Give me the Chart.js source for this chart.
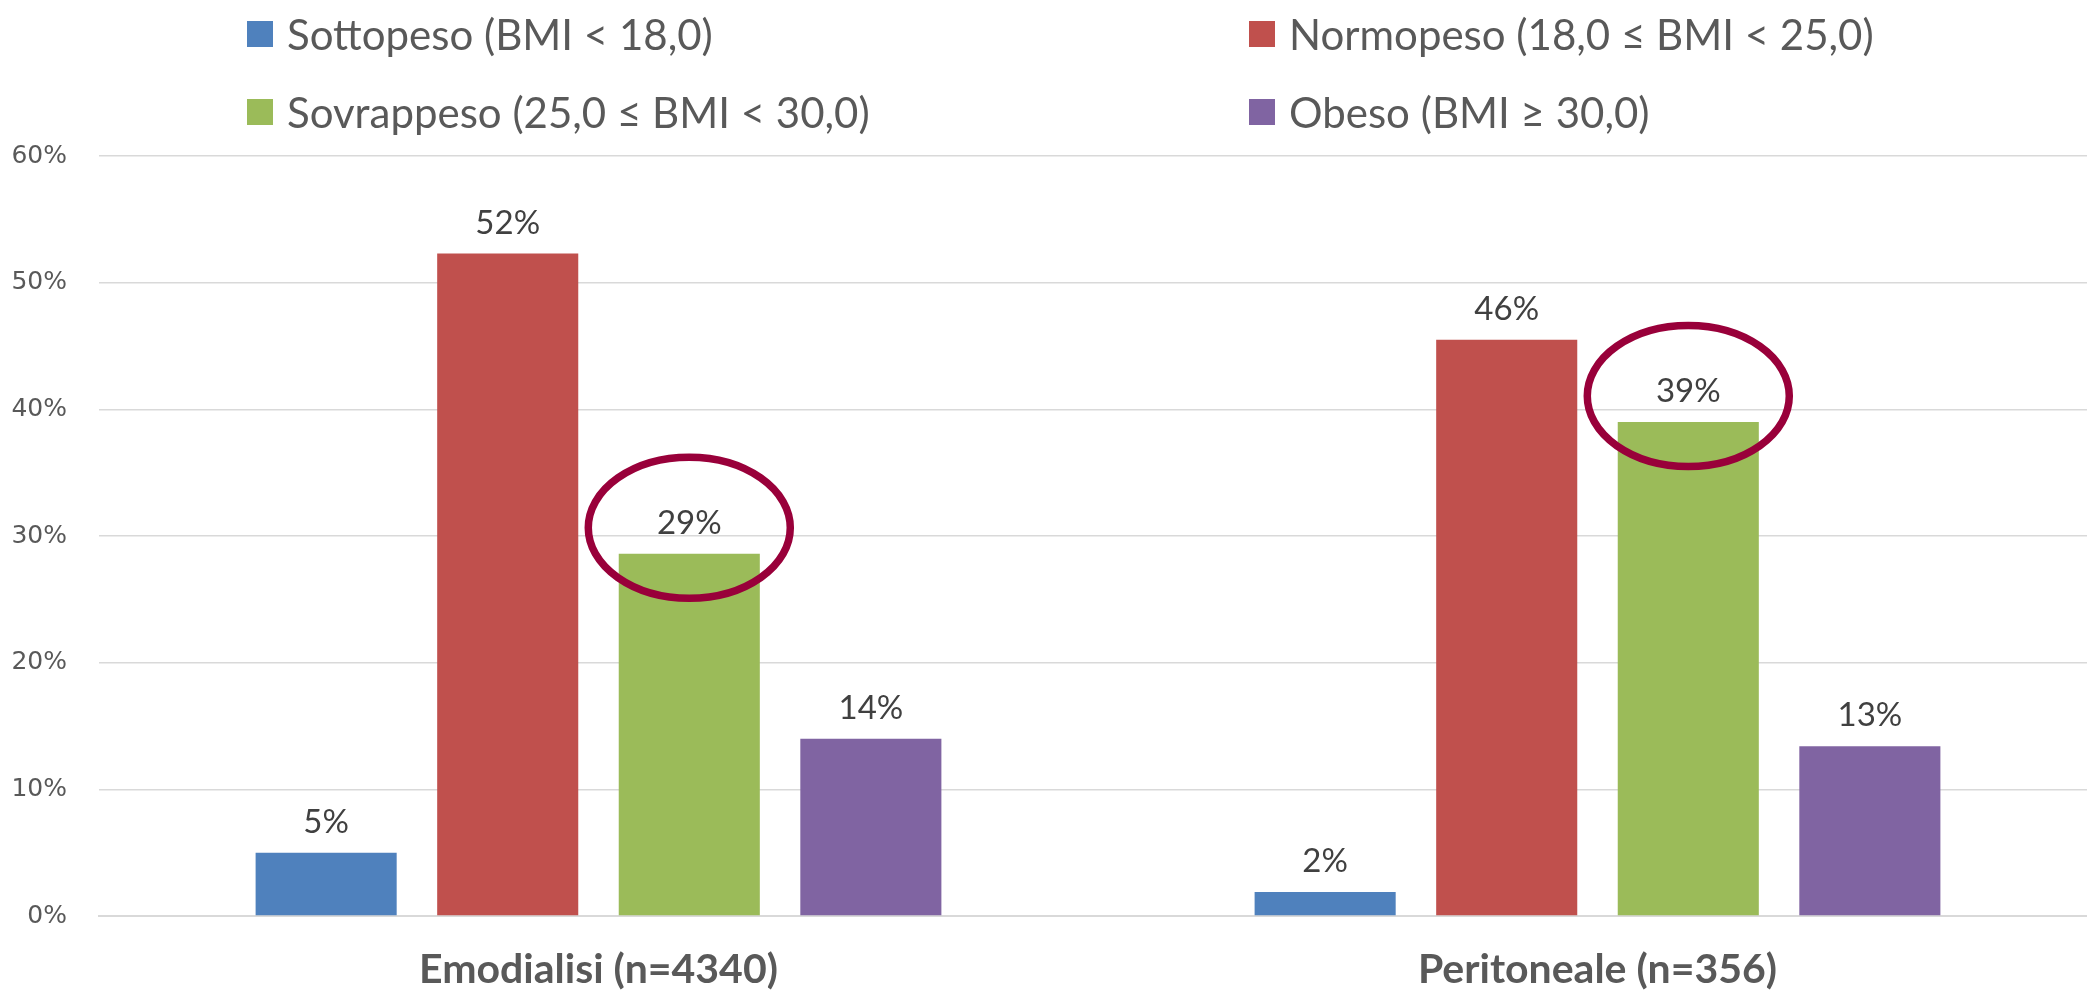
<!DOCTYPE html>
<html><head><meta charset="utf-8">
<script src="https://cdn.jsdelivr.net/npm/chart.js@4.4.1/dist/chart.umd.min.js"></script>
<style>
html,body{margin:0;padding:0;background:#fff;overflow:hidden;}
#wrap{position:relative;width:2100px;height:999px;}
#c{position:absolute;left:0;top:0;}
#legend{position:absolute;left:0;top:0;width:2087px;height:150px;}
.li{position:absolute;height:50px;display:flex;align-items:center;font-family:Lato,"Open Sans",sans-serif;font-size:42px;color:#595959;white-space:nowrap;}
.sw{display:inline-block;width:26px;height:26px;margin-right:14px;flex:none;}
</style></head><body>
<div id="wrap"><canvas id="c" width="2100" height="999" style="width:2100px;height:999px"></canvas><div id="legend"></div></div>
<script>
// ---- data ----
const categories = ['Emodialisi (n=4340)', 'Peritoneale (n=356)'];
const seriesNames = ['Sottopeso (BMI < 18,0)', 'Normopeso (18,0 ≤ BMI < 25,0)', 'Sovrappeso (25,0 ≤ BMI < 30,0)', 'Obeso (BMI ≥ 30,0)'];
const sottopeso = [5.0, 1.9];
const normopeso = [52.3, 45.5];
const sovrappeso = [28.6, 39.0];
const obeso = [14.0, 13.4];
const yTickValues = [0, 10, 20, 30, 40, 50, 60];
const seriesColors = ['#4F81BD', '#C0504D', '#9BBB59', '#8064A2'];
const highlightedSeries = 2; // circled series

const seriesValues = [sottopeso, normopeso, sovrappeso, obeso];
const datasets = seriesNames.map((n, i) => ({
  label: n,
  data: seriesValues[i],
  backgroundColor: seriesColors[i],
  borderWidth: 0,
  categoryPercentage: 0.727,
  barPercentage: 0.777
}));

const labelPlugin = {
  id: 'valLabels',
  afterDatasetsDraw(chart) {
    const ctx = chart.ctx;
    ctx.save();
    ctx.font = '33px Lato, "Open Sans", sans-serif';
    ctx.fillStyle = '#404040';
    ctx.textAlign = 'center';
    ctx.textBaseline = 'alphabetic';
    chart.data.datasets.forEach((ds, di) => {
      const meta = chart.getDatasetMeta(di);
      meta.data.forEach((bar, i) => {
        ctx.fillText(Math.round(ds.data[i]) + '%', bar.x, bar.y - 20);
      });
    });
    // highlight ellipses around the circled series
    const meta = chart.getDatasetMeta(highlightedSeries);
    ctx.strokeStyle = '#99003A';
    ctx.lineWidth = 7.5;
    meta.data.forEach(bar => {
      ctx.beginPath();
      ctx.ellipse(bar.x, bar.y - 26, 101, 70.5, 0, 0, Math.PI * 2);
      ctx.stroke();
    });
    ctx.restore();
  }
};

const chart = new Chart(document.getElementById('c'), {
  type: 'bar',
  data: { labels: categories, datasets },
  options: {
    responsive: false,
    animation: false,
    devicePixelRatio: 1,
    layout: { padding: { top: 156, left: 12, right: 3, bottom: 4 } },
    plugins: { legend: { display: false }, tooltip: { enabled: false } },
    scales: {
      x: {
        afterFit(axis) { axis.height = 79; },
        grid: { display: false, drawTicks: false },
        border: { display: true, color: '#D9D9D9', width: 2 },
        ticks: { padding: 29, color: '#595959', font: { family: 'Lato', size: 41, weight: 'bold' } }
      },
      y: {
        min: 0, max: 60,
        afterFit(axis) { axis.width = 87; },
        afterBuildTicks(axis) { axis.ticks = yTickValues.map(v => ({ value: v })); },
        grid: { color: '#D9D9D9', lineWidth: 1.5, drawTicks: false },
        border: { display: false },
        ticks: { padding: 32, color: '#595959', font: { family: 'DejaVu Sans', size: 25 }, callback: v => v + '%' }
      }
    }
  },
  plugins: [labelPlugin]
});

// HTML legend built from the chart's datasets
const legend = document.getElementById('legend');
const colX = [247, 1249];
const rowY = [34, 112];
chart.data.datasets.forEach((ds, i) => {
  const d = document.createElement('div');
  d.className = 'li';
  d.style.left = colX[i % 2] + 'px';
  d.style.top = (rowY[Math.floor(i / 2)] - 25) + 'px';
  const sw = document.createElement('span');
  sw.className = 'sw';
  sw.style.background = ds.backgroundColor;
  const t = document.createElement('span');
  t.textContent = ds.label;
  d.appendChild(sw); d.appendChild(t);
  legend.appendChild(d);
});
</script>
</body></html>
